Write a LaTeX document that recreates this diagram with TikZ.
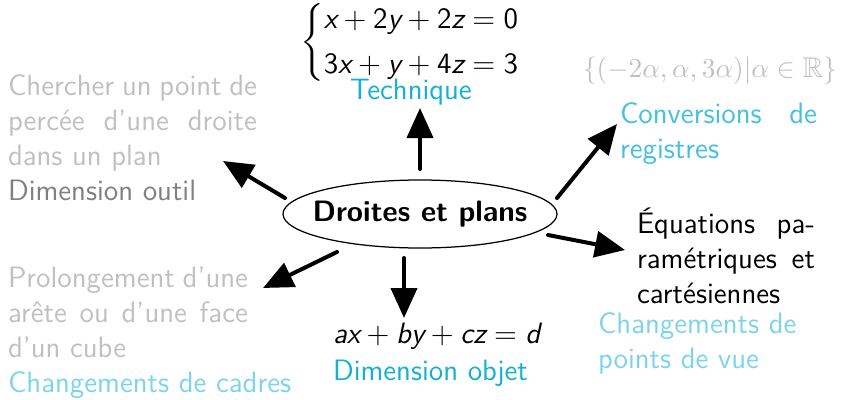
\documentclass[tikz,border=0pt]{standalone}
\usepackage{amssymb}
\usepackage{graphicx}
\usetikzlibrary{arrows.meta,shapes.geometric}
\definecolor{lgray}{RGB}{192,192,192}
\definecolor{mgray}{RGB}{128,128,128}
\definecolor{tcyan}{RGB}{22,176,208}
\definecolor{ccyan}{RGB}{70,192,222}
\definecolor{pcyan}{RGB}{125,212,234}
\newcommand\mv[1]{\textnormal{\sffamily\slshape #1}}
\newcommand\md[1]{\textnormal{\sffamily #1}}
\newcommand\sysbrace{\vcenter{\hbox{\scalebox{1}[0.88]{$\nulldelimiterspace=0pt\left\{\vrule height 16pt depth 16pt width 0pt\right.$}}}}
\begin{document}
\begin{tikzpicture}[x=0.4pt,y=-0.4pt,
  every node/.style={inner sep=0pt, outer sep=0pt, font=\sffamily\fontsize{11.8}{14}\selectfont},
  txt/.style={anchor=base west},
  jbox/.style={anchor=base west, align=justify, text width=#1},
  arr/.style={line width=1.6pt, line cap=round, -{Triangle[length=12pt,width=10.4pt]}}]
\useasboundingbox (0,0) rectangle (850,399);

% central node
\node[ellipse, draw, line width=0.5pt, inner xsep=-5.5pt, minimum width=109.6pt, minimum height=27.2pt,
      font=\sffamily\bfseries\fontsize{11.8}{14}\selectfont] (dp) at (420,214) {Droites et plans};

% top: system + Technique
\node[anchor=west] (sys) at (300,44) {$\sysbrace\begin{array}{@{}l@{}}\mv{x}+\md{2}\mv{y}+\md{2}\mv{z}=\md{0}\\[4pt]\md{3}\mv{x}+\mv{y}+\md{4}\mv{z}=\md{3}\end{array}$};
\node[txt, text=tcyan] (tech) at (350,100) {Technique};

% top left
\node[jbox=99.6pt, text=lgray] (outil) at (8,95) {Chercher un point de\linebreak percée d'une droite\linebreak dans un plan\\ \textcolor{mgray}{Dimension outil}};

% top right
\node[txt, text=lgray, font=\fontsize{11.4}{14}\selectfont] (set) at (583,78) {$\{(-2\alpha,\alpha,3\alpha)|\alpha\in\mathbb{R}\}$};
\node[jbox=78.8pt, text=ccyan] (conv) at (620,123) {Conversions de\linebreak registres};

% right
\node[jbox=71.2pt] (eq) at (637,233) {Équations pa-\linebreak ramétriques et\linebreak cartésiennes};
\node[txt, align=left, text=pcyan] (pdv) at (598,368) {Changements de\\points de vue};

% bottom
\node[txt] (cart) at (333,343) {$\mv{a}\mv{x}+\mv{b}\mv{y}+\mv{c}\mv{z}=\mv{d}$};
\node[txt, text=tcyan] (objet) at (333,380) {Dimension objet};

% bottom left
\node[jbox=96pt, text=lgray] (prol) at (8,287) {Prolongement d'une\linebreak arête ou d'une face\linebreak d'un cube};
\node[txt, text=pcyan] (cadres) at (8,392) {Changements de cadres};

% arrow ends
\coordinate (s1) at (420,169); \coordinate (e1) at (420,108);
\coordinate (s2) at (285,198); \coordinate (e2) at (223,161);
\coordinate (s3) at (557,198); \coordinate (e3) at (617,124);
\coordinate (s4) at (548,235); \coordinate (e4) at (625,250);
\coordinate (s5) at (337,252); \coordinate (e5) at (263,288);
\coordinate (s6) at (404,258); \coordinate (e6) at (404,318);

\draw[arr] (s1) -- (e1);
\draw[arr] (s2) -- (e2);
\draw[arr] (s3) -- (e3);
\draw[arr] (s4) -- (e4);
\draw[arr] (s5) -- (e5);
\draw[arr] (s6) -- (e6);
\end{tikzpicture}
\end{document}
